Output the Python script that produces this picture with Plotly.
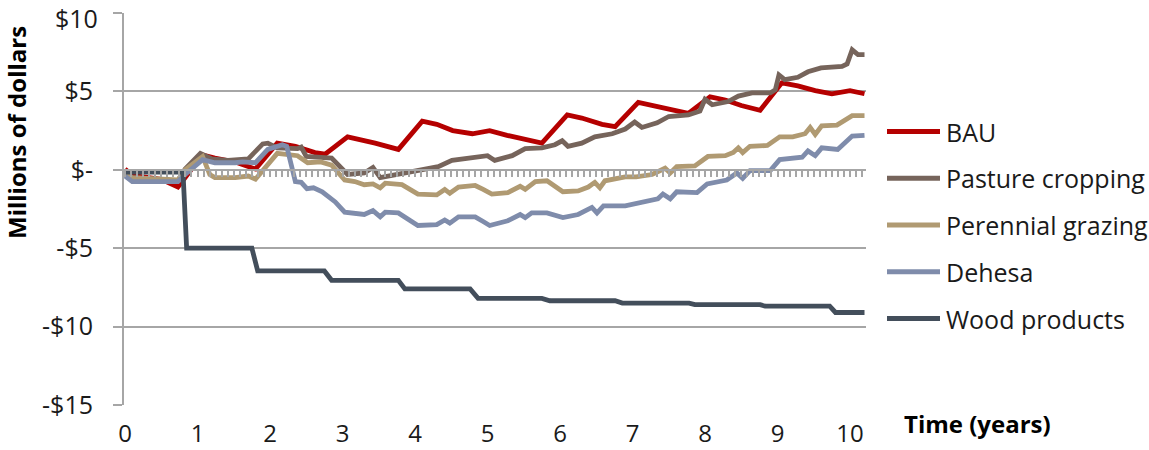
import plotly.graph_objects as go

# ---------------- data (years, millions of dollars) ----------------
series_names = ["BAU", "Pasture cropping", "Perennial grazing", "Dehesa", "Wood products"]
series_colors = ["#b50000", "#76645b", "#b09a72", "#7f8cab", "#434e5b"]

bau_x = [0, 0.1, 0.5, 0.73, 1.07, 1.24, 1.52, 1.8, 2.1, 2.35, 2.62, 2.76, 3.07, 3.3, 3.45, 3.77,
         4.1, 4.3, 4.52, 4.79, 5.03, 5.27, 5.48, 5.75, 6.1, 6.3, 6.58, 6.76, 7.08, 7.3, 7.56, 7.77,
         8.07, 8.28, 8.5, 8.76, 9.06, 9.28, 9.52, 9.75, 10.0, 10.2]
bau_y = [0.05, -0.35, -0.6, -1.1, 0.95, 0.75, 0.5, 0.05, 1.7, 1.5, 1.1, 1.0, 2.1, 1.9, 1.7, 1.3,
         3.1, 2.9, 2.5, 2.3, 2.5, 2.2, 2.0, 1.7, 3.5, 3.3, 2.9, 2.75, 4.3, 4.1, 3.8, 3.6,
         4.65, 4.45, 4.1, 3.8, 5.55, 5.35, 5.05, 4.85, 5.05, 4.85]

pasture_x = [0, 0.1, 0.73, 0.83, 1.04, 1.2, 1.42, 1.7, 1.9, 1.97, 2.1, 2.38, 2.43, 2.5, 2.85, 3.07,
             3.3, 3.42, 3.52, 3.77, 4.1, 4.32, 4.51, 4.69, 4.87, 5.0, 5.1, 5.34, 5.52, 5.75, 5.93,
             6.03, 6.11, 6.3, 6.48, 6.72, 6.9, 7.03, 7.13, 7.34, 7.5, 7.77, 7.93, 8.0, 8.1, 8.32,
             8.46, 8.65, 8.9, 8.97, 9.02, 9.1, 9.28, 9.42, 9.6, 9.89, 9.96, 10.03, 10.11, 10.2]
pasture_y = [-0.1, -0.5, -0.7, 0.05, 1.05, 0.7, 0.6, 0.7, 1.65, 1.7, 1.4, 1.35, 1.45, 0.85, 0.75, -0.3,
             -0.2, 0.15, -0.5, -0.3, 0.0, 0.2, 0.6, 0.7, 0.85, 0.9, 0.6, 0.9, 1.35, 1.4, 1.6,
             1.85, 1.5, 1.7, 2.1, 2.3, 2.6, 3.05, 2.7, 3.0, 3.4, 3.5, 3.75, 4.5, 4.15, 4.35,
             4.7, 4.9, 4.9, 5.1, 6.05, 5.75, 5.9, 6.25, 6.5, 6.6, 6.75, 7.65, 7.35, 7.35]

perennial_x = [0, 0.1, 0.73, 0.83, 1.07, 1.17, 1.24, 1.52, 1.7, 1.8, 2.1, 2.25, 2.38, 2.52, 2.7, 2.85,
               3.03, 3.17, 3.3, 3.42, 3.52, 3.59, 3.82, 4.04, 4.3, 4.41, 4.48, 4.6, 4.83, 4.94, 5.06,
               5.28, 5.45, 5.52, 5.66, 5.82, 6.04, 6.25, 6.39, 6.48, 6.55, 6.62, 6.9, 7.05, 7.27,
               7.45, 7.52, 7.61, 7.86, 8.04, 8.28, 8.39, 8.46, 8.52, 8.62, 8.86, 9.03, 9.21, 9.38,
               9.45, 9.52, 9.61, 9.82, 10.03, 10.2]
perennial_y = [-0.3, -0.5, -0.65, 0.0, 0.85, -0.3, -0.5, -0.5, -0.4, -0.6, 1.05, 0.95, 0.9, 0.45, 0.5, 0.3,
               -0.65, -0.75, -0.95, -0.9, -1.15, -0.85, -0.95, -1.55, -1.6, -1.25, -1.5, -1.1, -1.0, -1.25, -1.55,
               -1.45, -1.05, -1.25, -0.75, -0.7, -1.4, -1.35, -1.1, -0.8, -1.15, -0.7, -0.45, -0.45, -0.3,
               0.1, -0.2, 0.2, 0.25, 0.85, 0.9, 1.1, 1.4, 1.1, 1.5, 1.55, 2.1, 2.1, 2.3,
               2.7, 2.25, 2.8, 2.85, 3.45, 3.45]

dehesa_x = [0, 0.1, 0.73, 0.83, 1.07, 1.24, 1.52, 1.62, 1.8, 1.97, 2.17, 2.23, 2.35, 2.43, 2.51, 2.6,
            2.72, 2.9, 3.03, 3.3, 3.42, 3.52, 3.59, 3.77, 4.04, 4.3, 4.41, 4.48, 4.6, 4.83, 4.94, 5.03,
            5.28, 5.45, 5.52, 5.61, 5.82, 6.04, 6.25, 6.44, 6.51, 6.6, 6.9, 7.1, 7.35, 7.42, 7.52, 7.61,
            7.89, 8.03, 8.3, 8.44, 8.52, 8.62, 8.9, 9.03, 9.34, 9.42, 9.52, 9.61, 9.83, 10.03, 10.2]
dehesa_y = [-0.4, -0.75, -0.75, -0.3, 0.65, 0.45, 0.45, 0.5, 0.45, 1.3, 1.6, 1.5, -0.75, -0.8, -1.2, -1.15,
            -1.4, -2.05, -2.7, -2.85, -2.6, -3.0, -2.7, -2.75, -3.55, -3.5, -3.2, -3.4, -3.0, -3.0, -3.3, -3.55,
            -3.25, -2.85, -3.05, -2.75, -2.75, -3.05, -2.85, -2.4, -2.75, -2.3, -2.3, -2.1, -1.85, -1.55, -1.85, -1.4,
            -1.45, -0.9, -0.65, -0.2, -0.55, -0.05, -0.05, 0.65, 0.8, 1.2, 0.9, 1.4, 1.3, 2.15, 2.2]

wood_x = [0, 0.8, 0.85, 1.75, 1.83, 2.75, 2.85, 3.77, 3.86, 4.76, 4.87, 5.75, 5.86, 6.76, 6.86,
          7.78, 7.86, 8.76, 8.83, 9.72, 9.8, 10.2]
wood_y = [-0.15, -0.15, -5.0, -5.0, -6.45, -6.45, -7.05, -7.05, -7.6, -7.6, -8.2, -8.2, -8.35, -8.35, -8.5,
          -8.5, -8.6, -8.6, -8.7, -8.7, -9.1, -9.1]

x_tick_vals = list(range(0, 11))
y_tick_vals = [-15, -10, -5, 0, 5, 10]
y_tick_text = ["-$15", "-$10", "-$5", "$-", "$5", "$10"]

# ---------------- figure ----------------
FONT = "Open Sans"
GRID = "#a6a6a6"
TXT = "#1a1a1a"
LW = 4.8
W, H = 1149, 450
ML, MR, MT, MB = 124, 283, 13, 45
pw, ph = W - ML - MR, H - MT - MB
Y_TICKLEN, Y_STANDOFF = 9, 15

def px_to_paper_x(px):
    return (px - ML) / pw

def px_to_paper_y(py):
    return (H - MB - py) / ph

fig = go.Figure()
all_x = [bau_x, pasture_x, perennial_x, dehesa_x, wood_x]
all_y = [bau_y, pasture_y, perennial_y, dehesa_y, wood_y]
for name, color, xs, ys in zip(series_names, series_colors, all_x, all_y):
    fig.add_trace(go.Scatter(x=xs, y=ys, name=name, mode="lines",
                             line=dict(color=color, width=LW), showlegend=False))

# dummy trace so the zero-line axis (x2) gets created
fig.add_trace(go.Scatter(x=[0], y=[None], xaxis="x2", yaxis="y", showlegend=False,
                         hoverinfo="skip", mode="lines"))

x_range = [-1 / 72.5, -1 / 72.5 + pw / 72.5]

# the top tick label sits at the very edge of the page; draw it as an annotation
top_idx = y_tick_vals.index(max(y_tick_vals))
axis_tick_text = [t if i != top_idx else "" for i, t in enumerate(y_tick_text)]

fig.update_layout(
    width=W, height=H,
    margin=dict(l=ML, r=MR, t=MT, b=MB, autoexpand=False),
    paper_bgcolor="white", plot_bgcolor="white",
    font=dict(family=FONT, size=25, color=TXT),
    xaxis=dict(range=x_range, tickvals=x_tick_vals, showgrid=False, zeroline=False,
               showline=False, ticks="", ticklabelstandoff=12, automargin=False,
               ticklabeloverflow="allow",
               tickfont=dict(family=FONT, size=24, color=TXT)),
    xaxis2=dict(range=x_range, overlaying="x", anchor="free", position=0.6, side="bottom",
                showline=True, linecolor=GRID, linewidth=2, showgrid=False, zeroline=False,
                ticks="outside", ticklen=6, tickwidth=2, tickcolor=GRID, automargin=False,
                tick0=0, dtick=1 / 12, showticklabels=False),
    yaxis=dict(range=[-15, 10], tickvals=y_tick_vals, ticktext=axis_tick_text,
               showgrid=True, gridcolor=GRID, gridwidth=2, zeroline=False,
               showline=True, linecolor=GRID, linewidth=2,
               ticks="outside", ticklen=Y_TICKLEN, tickwidth=2, tickcolor=GRID,
               ticklabelstandoff=Y_STANDOFF, automargin=False, ticklabeloverflow="allow",
               tickfont=dict(family=FONT, size=25, color=TXT)),
)

fig.add_annotation(text=y_tick_text[top_idx], xref="paper", yref="paper",
                   x=px_to_paper_x(ML - Y_TICKLEN - Y_STANDOFF - 1), y=1.0 + MT / ph,
                   xanchor="right", yanchor="top", showarrow=False, borderpad=0,
                   font=dict(family=FONT, size=25, color=TXT))

# axis titles
fig.add_annotation(text="<b>Millions of dollars</b>", xref="paper", yref="paper",
                   x=px_to_paper_x(16), y=px_to_paper_y(132), textangle=-90,
                   showarrow=False, xanchor="center", yanchor="middle",
                   font=dict(family=FONT, size=24, color="#000000"))
fig.add_annotation(text="<b>Time (years)</b>", xref="paper", yref="paper",
                   x=px_to_paper_x(902), y=px_to_paper_y(423),
                   showarrow=False, xanchor="left", yanchor="middle",
                   font=dict(family=FONT, size=24, color="#000000"))

# legend (manual, to match the long line samples)
for i, (name, color) in enumerate(zip(series_names, series_colors)):
    py = 131.5 + 46.75 * i
    fig.add_shape(type="line", xref="paper", yref="paper",
                  x0=px_to_paper_x(887), x1=px_to_paper_x(940),
                  y0=px_to_paper_y(py), y1=px_to_paper_y(py),
                  line=dict(color=color, width=LW))
    fig.add_annotation(text=name, xref="paper", yref="paper",
                       x=px_to_paper_x(944), y=px_to_paper_y(py),
                       showarrow=False, xanchor="left", yanchor="middle",
                       font=dict(family=FONT, size=25, color=TXT))

fig.write_html("out.html", config={"displayModeBar": False},
               post_script="document.body.style.margin='0';document.body.style.padding='0';")
